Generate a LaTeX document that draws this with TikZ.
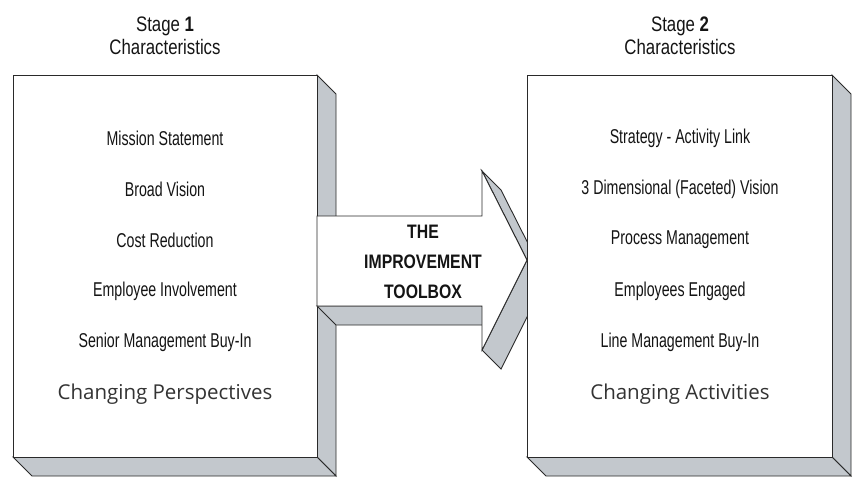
\documentclass[tikz,border=0pt]{standalone}
\usepackage{fontspec}
\newfontfamily\itemfont[FakeStretch=0.71]{Liberation Sans}
\newfontfamily\headfont[FakeStretch=0.80]{Liberation Sans}
\newfontfamily\toolfont[FakeStretch=0.81]{Liberation Sans}
\newfontfamily\widefont{Open Sans}
\definecolor{facegray}{HTML}{C3C8CD}
\definecolor{edgecol}{HTML}{2A2A2A}
\definecolor{inkcol}{HTML}{141414}
\begin{document}
\begin{tikzpicture}[x=1pt,y=-1pt,
  side/.style={fill=facegray,draw=edgecol,line width=0.9pt,line join=miter},
  front/.style={fill=white,draw=edgecol,line width=0.9pt,line join=miter},
  item/.style={font=\itemfont\fontsize{20}{22}\selectfont,text=inkcol,inner sep=0pt,anchor=center},
  head/.style={font=\headfont\fontsize{21}{23}\selectfont,text=inkcol,inner sep=0pt,align=center,anchor=center},
  foot/.style={font=\widefont\fontsize{20.5}{22}\selectfont,text=black!80,inner sep=0pt,anchor=center},
  tool/.style={font=\toolfont\bfseries\fontsize{19.5}{30}\selectfont,text=inkcol,inner sep=0pt,align=center,anchor=center}]
\useasboundingbox (0,0) rectangle (853,480);

% stage 1 block
\draw[side] (317,75) -- (336,94) -- (336,476) -- (317,457) -- cycle;
\draw[side] (13,457) -- (317,457) -- (336,476) -- (32,476) -- cycle;
\draw[front] (13,75) rectangle (317,457);

% improvement arrow (extruded)
\draw[side] (317,306) -- (482,306) -- (501,325) -- (336,325) -- cycle;
\draw[side] (482,171) -- (527,260) -- (546,279) -- (501,190) -- cycle;
\draw[side] (527,260) -- (482,350) -- (501,369) -- (546,279) -- cycle;
\draw[front] (317,216) -- (482,216) -- (482,171) -- (527,260) -- (482,350)
  -- (482,306) -- (317,306) -- cycle;

% stage 2 block
\draw[side] (832,75) -- (851,94) -- (851,476) -- (832,457) -- cycle;
\draw[side] (527,457) -- (832,457) -- (851,476) -- (546,476) -- cycle;
\draw[front] (527,75) rectangle (832,457);

% headings
\node[head] (h1) at (165,36) {Stage \textbf{1}\\Characteristics};
\node[head] (h2) at (680,36) {Stage \textbf{2}\\Characteristics};

% stage 1 items
\node[item] (a1) at (165,138) {Mission Statement};
\node[item] (a2) at (165,189) {Broad Vision};
\node[item] (a3) at (165,240) {Cost Reduction};
\node[item] (a4) at (165,291) {Employee Involvement};
\node[item] (a5) at (165,342) {Senior Management Buy-In};
\node[foot] (a6) at (165,394) {Changing Perspectives};

% stage 2 items
\node[item] (b1) at (680,138) {Strategy - Activity Link};
\node[item] (b2) at (680,189) {3 Dimensional (Faceted) Vision};
\node[item] (b3) at (680,240) {Process Management};
\node[item] (b4) at (680,291) {Employees Engaged};
\node[item] (b5) at (680,342) {Line Management Buy-In};
\node[foot] (b6) at (680,394) {Changing Activities};

% arrow label
\node[tool] (t) at (423,262) {THE\\IMPROVEMENT\\TOOLBOX};
\end{tikzpicture}
\end{document}
